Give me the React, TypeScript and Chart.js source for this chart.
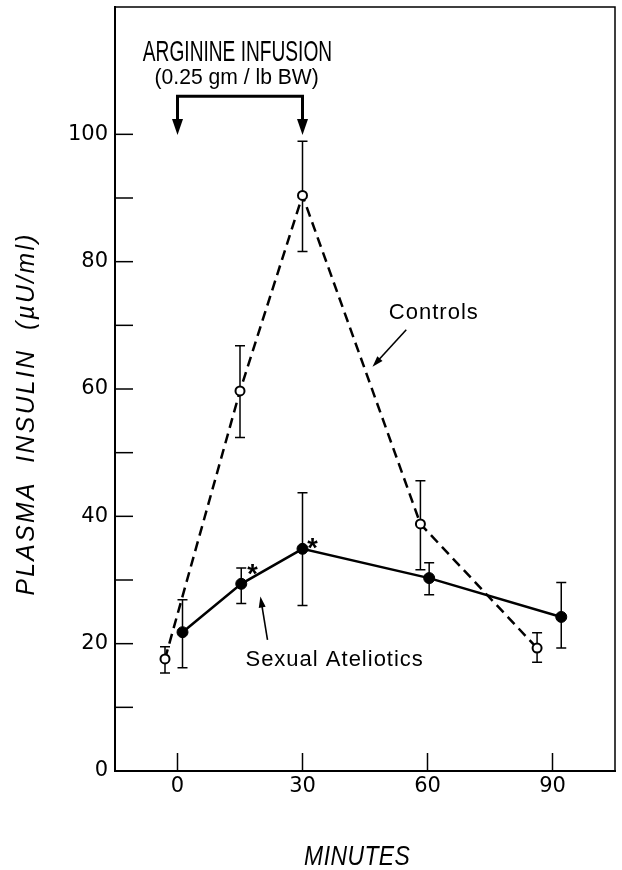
import React, { useEffect, useRef } from "react";
import { Chart, registerables } from "chart.js";

Chart.register(...registerables);

// ---- Data ----
const minuteTicks = [0, 30, 60, 90];
const insulinTickMarks = [10, 20, 30, 40, 50, 60, 70, 80, 90, 100];
const insulinTickLabels = [0, 20, 40, 60, 80, 100];

const controlsMinutes = [-3, 15, 30, 58.3, 86.3];
const controlsInsulin = [17.6, 59.7, 90.4, 38.8, 19.3];
const controlsHigh = [19.5, 66.8, 98.9, 45.6, 21.7];
const controlsLow = [15.4, 52.4, 81.6, 31.6, 17.1];

const atelioticsMinutes = [1.2, 15.3, 30, 60.4, 92.1];
const atelioticsInsulin = [21.8, 29.4, 34.9, 30.3, 24.2];
const atelioticsHigh = [26.9, 31.9, 43.7, 32.7, 29.6];
const atelioticsLow = [16.2, 26.3, 26.0, 27.7, 19.3];

// significance markers (minutes, insulin)
const asteriskMinutes = [18.0, 32.4];
const asteriskInsulin = [31.9, 36.0];

// annotation anchors (minutes, insulin)
const infusionStartEnd = [0, 30];
const infusionBarLevel = 106;
const infusionArrowTip = 99.9;
const infusionTitle = "ARGININE INFUSION";
const infusionDose = "(0.25 gm / lb BW)";
const infusionTitleAt = [14.4, 112.7];
const infusionDoseAt = [14.2, 108.8];

const controlsLabel = "Controls";
const controlsLabelAt = [61.4, 72.0];
const controlsArrow = [54.9, 69.3, 46.8, 63.5];

const atelioticsLabel = "Sexual Ateliotics";
const atelioticsLabelAt = [37.6, 17.5];
const atelioticsArrow = [21.6, 20.6, 19.9, 27.4];

const xTitle = "MINUTES";
const yTitle = "PLASMA  INSULIN  (\u00B5U/ml)";

type Ctx = CanvasRenderingContext2D;

function drawText(
  ctx: Ctx,
  text: string,
  x: number,
  y: number,
  font: string,
  scaleX = 1,
  rotate = 0,
  spacing = 0
) {
  ctx.save();
  ctx.translate(x, y);
  if (rotate) ctx.rotate(rotate);
  ctx.scale(scaleX, 1);
  ctx.font = font;
  (ctx as any).letterSpacing = spacing + "px";
  ctx.textAlign = "center";
  ctx.textBaseline = "middle";
  ctx.fillStyle = "#000";
  ctx.fillText(text, spacing / 2, 0);
  ctx.restore();
}

function drawArrow(
  ctx: Ctx,
  x1: number,
  y1: number,
  x2: number,
  y2: number,
  headLen: number,
  headHalf: number,
  lw: number
) {
  const ang = Math.atan2(y2 - y1, x2 - x1);
  const bx = x2 - headLen * Math.cos(ang);
  const by = y2 - headLen * Math.sin(ang);
  ctx.lineWidth = lw;
  ctx.beginPath();
  ctx.moveTo(x1, y1);
  ctx.lineTo(bx + Math.cos(ang) * 2, by + Math.sin(ang) * 2);
  ctx.stroke();
  const px = -Math.sin(ang) * headHalf;
  const py = Math.cos(ang) * headHalf;
  ctx.beginPath();
  ctx.moveTo(x2, y2);
  ctx.lineTo(bx + px, by + py);
  ctx.lineTo(bx - px, by - py);
  ctx.closePath();
  ctx.fill();
}

const figurePlugin = {
  id: "figurePlugin",
  beforeDatasetsDraw(chart: any) {
    const ctx: Ctx = chart.ctx;
    const xs = chart.scales.x;
    const ys = chart.scales.y;
    ctx.save();
    ctx.strokeStyle = "#000";
    ctx.lineWidth = 1.5;
    const bars = [
      [controlsMinutes, controlsLow, controlsHigh],
      [atelioticsMinutes, atelioticsLow, atelioticsHigh],
    ];
    bars.forEach(([mins, lows, highs]) => {
      mins.forEach((m, i) => {
        const px = xs.getPixelForValue(m);
        const lo = ys.getPixelForValue(lows[i]);
        const hi = ys.getPixelForValue(highs[i]);
        ctx.beginPath();
        ctx.moveTo(px, lo);
        ctx.lineTo(px, hi);
        ctx.moveTo(px - 5, lo);
        ctx.lineTo(px + 5, lo);
        ctx.moveTo(px - 5, hi);
        ctx.lineTo(px + 5, hi);
        ctx.stroke();
      });
    });
    ctx.restore();
  },
  afterDraw(chart: any) {
    const ctx: Ctx = chart.ctx;
    const xs = chart.scales.x;
    const ys = chart.scales.y;
    const area = chart.chartArea;
    ctx.save();
    ctx.strokeStyle = "#000";
    ctx.fillStyle = "#000";

    // top and right frame
    ctx.lineWidth = 1.5;
    ctx.beginPath();
    ctx.moveTo(area.left, area.top);
    ctx.lineTo(area.right, area.top);
    ctx.lineTo(area.right, area.bottom);
    ctx.stroke();

    // inward tick marks
    ctx.lineWidth = 1.5;
    insulinTickMarks.forEach((v) => {
      const py = ys.getPixelForValue(v);
      ctx.beginPath();
      ctx.moveTo(area.left, py);
      ctx.lineTo(area.left + 18, py);
      ctx.stroke();
    });
    minuteTicks.forEach((v) => {
      const px = xs.getPixelForValue(v);
      ctx.beginPath();
      ctx.moveTo(px, area.bottom);
      ctx.lineTo(px, area.bottom - 18);
      ctx.stroke();
    });

    // infusion bracket
    const bx0 = xs.getPixelForValue(infusionStartEnd[0]);
    const bx1 = xs.getPixelForValue(infusionStartEnd[1]);
    const by = ys.getPixelForValue(infusionBarLevel);
    const tip = ys.getPixelForValue(infusionArrowTip);
    ctx.lineWidth = 3;
    ctx.lineJoin = "miter";
    ctx.beginPath();
    ctx.moveTo(bx0, tip - 14);
    ctx.lineTo(bx0, by);
    ctx.lineTo(bx1, by);
    ctx.lineTo(bx1, tip - 14);
    ctx.stroke();
    [bx0, bx1].forEach((bx) => {
      ctx.beginPath();
      ctx.moveTo(bx, tip);
      ctx.lineTo(bx - 5.5, tip - 16);
      ctx.lineTo(bx + 5.5, tip - 16);
      ctx.closePath();
      ctx.fill();
    });

    drawText(
      ctx,
      infusionTitle,
      xs.getPixelForValue(infusionTitleAt[0]),
      ys.getPixelForValue(infusionTitleAt[1]),
      "500 29px 'Liberation Sans'",
      0.66
    );
    drawText(
      ctx,
      infusionDose,
      xs.getPixelForValue(infusionDoseAt[0]),
      ys.getPixelForValue(infusionDoseAt[1]),
      "22px 'Liberation Sans'",
      0.96
    );

    // series labels and arrows
    drawText(
      ctx,
      controlsLabel,
      xs.getPixelForValue(controlsLabelAt[0]),
      ys.getPixelForValue(controlsLabelAt[1]),
      "22px 'Liberation Sans'",
      1,
      0,
      1
    );
    drawArrow(
      ctx,
      xs.getPixelForValue(controlsArrow[0]),
      ys.getPixelForValue(controlsArrow[1]),
      xs.getPixelForValue(controlsArrow[2]),
      ys.getPixelForValue(controlsArrow[3]),
      11,
      3.5,
      1.6
    );
    drawText(
      ctx,
      atelioticsLabel,
      xs.getPixelForValue(atelioticsLabelAt[0]),
      ys.getPixelForValue(atelioticsLabelAt[1]),
      "22px 'Liberation Sans'",
      1,
      0,
      1
    );
    drawArrow(
      ctx,
      xs.getPixelForValue(atelioticsArrow[0]),
      ys.getPixelForValue(atelioticsArrow[1]),
      xs.getPixelForValue(atelioticsArrow[2]),
      ys.getPixelForValue(atelioticsArrow[3]),
      11,
      3.5,
      1.6
    );

    // asterisks
    asteriskMinutes.forEach((m, i) => {
      ctx.save();
      ctx.font = "bold 27px 'Liberation Sans'";
      ctx.textAlign = "center";
      ctx.textBaseline = "alphabetic";
      ctx.fillText(
        "*",
        xs.getPixelForValue(m),
        ys.getPixelForValue(asteriskInsulin[i]) + 15
      );
      ctx.restore();
    });

    // axis titles
    drawText(
      ctx,
      xTitle,
      (area.left + area.right) / 2 - 8,
      857,
      "italic 27px 'Liberation Sans'",
      0.85,
      0,
      0.5
    );
    drawText(
      ctx,
      yTitle,
      27,
      (area.top + area.bottom) / 2 + 26,
      "italic 26px 'Liberation Sans'",
      0.95,
      -Math.PI / 2,
      2.5
    );

    ctx.restore();
  },
};

export default function App() {
  const canvasRef = useRef<HTMLCanvasElement | null>(null);

  useEffect(() => {
    const canvas = canvasRef.current;
    if (!canvas) return;
    const chart = new Chart(canvas, {
      type: "line",
      data: {
        datasets: [
          {
            label: "Controls",
            data: controlsMinutes.map((m, i) => ({ x: m, y: controlsInsulin[i] })),
            borderColor: "#000",
            borderWidth: 2.5,
            borderDash: [10, 6],
            pointRadius: 4.5,
            pointBorderWidth: 2,
            pointBackgroundColor: "#fff",
            pointBorderColor: "#000",
            fill: false,
            tension: 0,
          },
          {
            label: "Sexual Ateliotics",
            data: atelioticsMinutes.map((m, i) => ({ x: m, y: atelioticsInsulin[i] })),
            borderColor: "#000",
            borderWidth: 2.5,
            pointRadius: 5.5,
            pointBorderWidth: 1,
            pointBackgroundColor: "#000",
            pointBorderColor: "#000",
            fill: false,
            tension: 0,
          },
        ],
      },
      options: {
        responsive: false,
        animation: false,
        devicePixelRatio: 1,
        layout: { padding: { left: 0, top: 7, right: 7, bottom: 0 } },
        plugins: {
          legend: { display: false },
          tooltip: { enabled: false },
          title: { display: false },
        },
        scales: {
          x: {
            type: "linear",
            min: -15,
            max: 105,
            afterBuildTicks: (scale: any) => {
              scale.ticks = minuteTicks.map((v) => ({ value: v }));
            },
            afterFit: (scale: any) => {
              scale.height = 99;
              scale.paddingLeft = 0;
              scale.paddingRight = 0;
            },
            grid: { display: false, drawTicks: false },
            border: { display: true, color: "#000", width: 2 },
            ticks: {
              color: "#000",
              padding: 3,
              font: { family: "'DejaVu Sans'", size: 21 },
              callback: (v: any) => String(v),
            },
          },
          y: {
            type: "linear",
            min: 0,
            max: 120,
            afterBuildTicks: (scale: any) => {
              scale.ticks = [0, ...insulinTickMarks].map((v) => ({ value: v }));
            },
            afterFit: (scale: any) => {
              scale.width = 115;
              scale.paddingTop = 0;
              scale.paddingBottom = 0;
            },
            grid: { display: false, drawTicks: false },
            border: { display: true, color: "#000", width: 2 },
            ticks: {
              color: "#000",
              padding: 7,
              font: { family: "'DejaVu Sans'", size: 21 },
              callback: (v: any) =>
                insulinTickLabels.includes(Number(v)) ? String(v) : "",
            },
          },
        },
      },
      plugins: [figurePlugin],
    });
    return () => chart.destroy();
  }, []);

  return (
    <div
      style={{
        position: "absolute",
        left: 0,
        top: 0,
        width: 622,
        height: 870,
        background: "#fff",
      }}
    >
      <canvas ref={canvasRef} width={622} height={870} />
    </div>
  );
}
